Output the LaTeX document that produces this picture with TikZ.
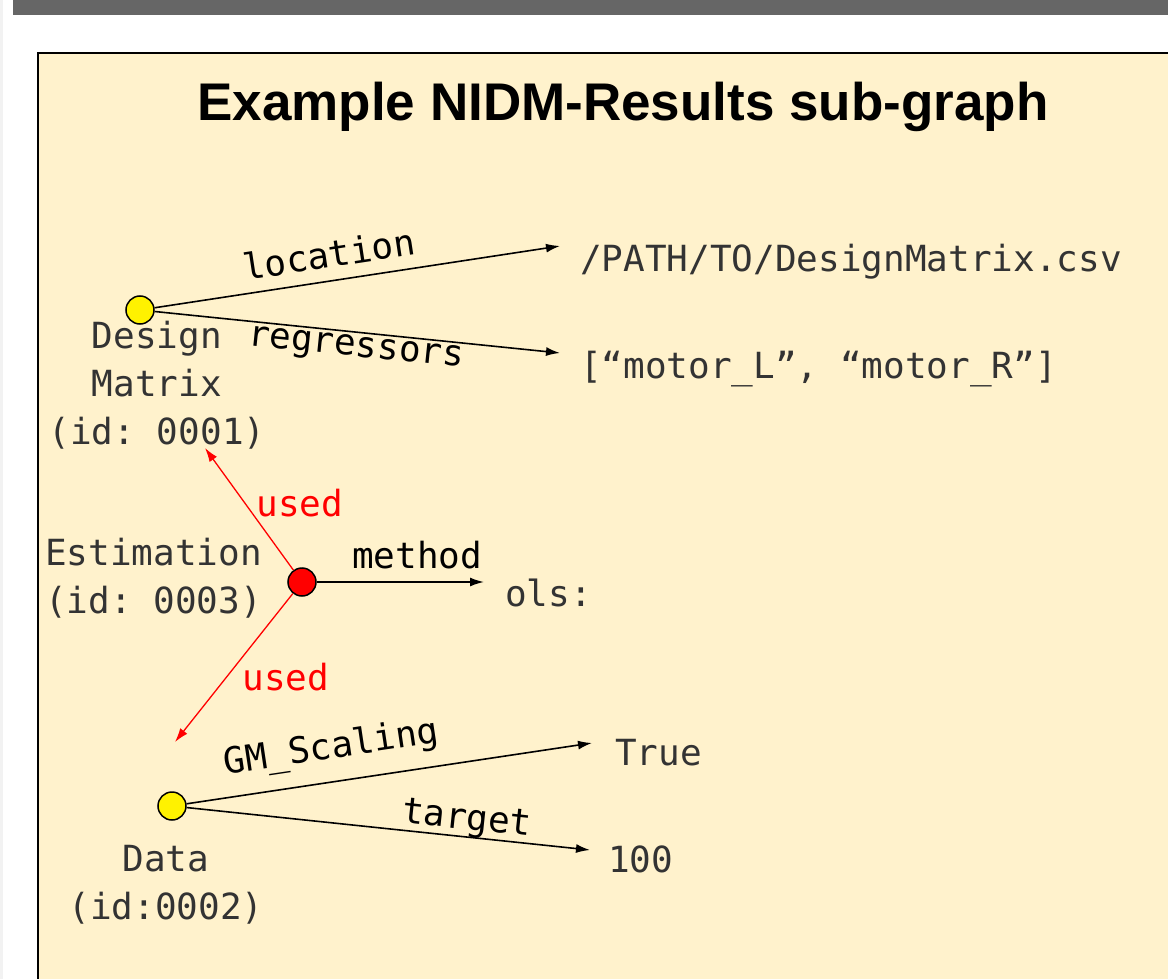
\documentclass[tikz,border=0pt]{standalone}
\usepackage{fontspec}
\setmainfont{Liberation Sans}
\setmonofont{DejaVu Sans Mono}
\usetikzlibrary{arrows.meta,positioning}
\definecolor{slidebg}{HTML}{FFF2CC}
\definecolor{bargray}{HTML}{666666}
\definecolor{inktext}{HTML}{333333}
\begin{document}
\begin{tikzpicture}[x=1pt, y=-1pt,
    entity/.style={circle, draw, line width=1.5pt, fill=yellow,
      minimum size=28pt, inner sep=0pt},
    activity/.style={entity, fill=red},
    idtext/.style={font=\ttfamily\fontsize{36}{48}\selectfont,
      text=inktext, align=center, inner sep=0pt},
    valtext/.style={font=\ttfamily\fontsize{36}{48}\selectfont,
      text=inktext, inner sep=0pt},
    rel/.style={font=\ttfamily\fontsize{36}{48}\selectfont, inner sep=3pt},
    attr/.style={draw, line width=1.6pt, -{Latex[length=14pt,width=9pt]}},
    usedarrow/.style={attr, red, line width=1.3pt}]
  \useasboundingbox (0,0) rectangle (1168,979);
  % slide frame
  \fill[gray!10] (0,0) rectangle (3,979);
  \fill[bargray] (13,0) rectangle (1168,15);
  \draw[line width=2pt, fill=slidebg] (38,53) rectangle (1190,1000);
  \node[font=\bfseries\fontsize{53}{60}\selectfont, anchor=base]
    (title) at (623,121) {Example NIDM-Results sub-graph};
  % entities and activity
  \node[entity] (dm) at (140,310) {};
  \node[activity] (est) at (302,582) {};
  \node[entity] (data) at (172,806) {};
  \node[idtext, below=-4pt of dm, xshift=17pt] (dmlab)
    {Design\\Matrix\\(id: 0001)};
  \node[idtext, anchor=east] (estlab) at (262,578)
    {Estimation\\(id: 0003)};
  \node[idtext, below=24pt of data, xshift=-6pt] (datalab)
    {Data\\(id:0002)};
  % values
  \node[valtext, anchor=base west] (dmpath) at (580,271)
    {/PATH/TO/DesignMatrix.csv};
  \node[valtext, anchor=base west] (dmreg) at (580,378)
    {[“motor\textunderscore L”, “motor\textunderscore R”]};
  \node[valtext, anchor=base west] (estmeth) at (505,606) {ols:};
  \node[valtext, anchor=base west] (datagm) at (615,765) {True};
  \node[valtext, anchor=base west] (datatgt) at (608,872) {100};
  \coordinate (pathend) at (560,246);
  \coordinate (regend) at (560,353);
  \coordinate (methend) at (484,582);
  \coordinate (gmend) at (592,743);
  \coordinate (tgtend) at (590,850);
  \coordinate (usedend1) at (205,448);
  \coordinate (usedend2) at (175,742);
  % attributes
  \draw[attr] (dm) -- node[rel, above=9pt, sloped, pos=0.44] {location} (pathend);
  \draw[attr] (dm) -- node[rel, below, sloped, pos=0.5] {regressors} (regend);
  \draw[attr] (est) -- node[rel, above=9pt, pos=0.6] {method} (methend);
  \draw[attr] (data) -- node[rel, above=11pt, sloped, pos=0.37] {GM\_Scaling} (gmend);
  \draw[attr] (data) -- node[rel, above=-4pt, sloped, pos=0.69] {target} (tgtend);
  % provenance
  \draw[usedarrow] (est) -- node[rel, right, pos=0.55, xshift=8pt] {used} (usedend1);
  \draw[usedarrow] (est) -- node[rel, right, pos=0.56, xshift=12pt] {used} (usedend2);
\end{tikzpicture}
\end{document}
